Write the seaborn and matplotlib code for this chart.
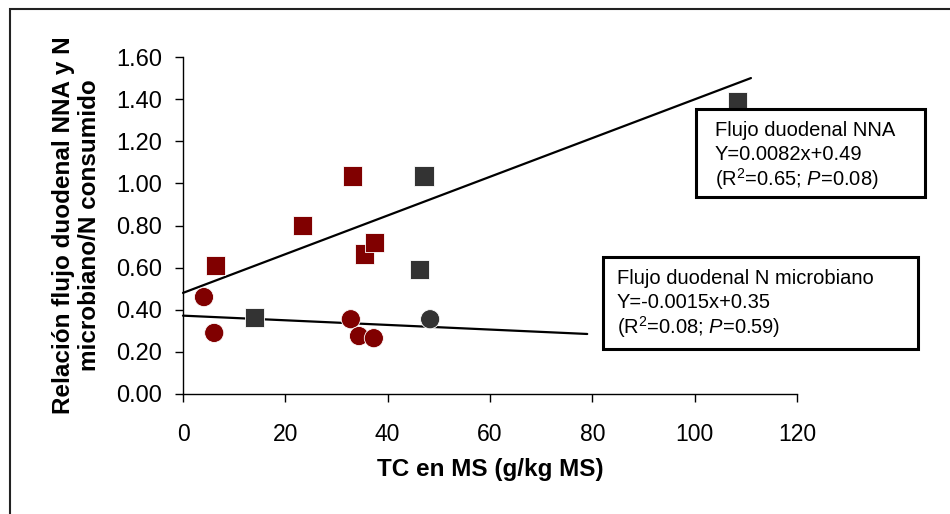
import matplotlib
matplotlib.use("Agg")
import matplotlib.pyplot as plt
import matplotlib.patches as patches
import numpy as np
import pandas as pd
import seaborn as sns

# Values
tc_sq_red = [6.4, 23.3, 33.2, 35.4, 37.5]
nna_sq_red = [0.61, 0.80, 1.035, 0.665, 0.72]
tc_sq_gray = [13.9, 46.3, 47.1, 108.3]
nna_sq_gray = [0.365, 0.59, 1.035, 1.39]
tc_ci_red = [4.1, 6.1, 32.8, 34.4, 37.3]
mic_ci_red = [0.46, 0.29, 0.355, 0.275, 0.265]
tc_ci_gray = [48.3]
mic_ci_gray = [0.355]

# fitted lines as drawn in the chart (end points)
nna_line_x = [0, 111]
nna_line_y = [0.48, 1.50]
mic_line_x = [0, 79]
mic_line_y = [0.372, 0.285]

x_ticks = [0, 20, 40, 60, 80, 100, 120]
y_ticks = [0.0, 0.2, 0.4, 0.6, 0.8, 1.0, 1.2, 1.4, 1.6]

nna_text = ["Flujo duodenal NNA", "Y=0.0082x+0.49", r"(R$^2$=0.65; $P$=0.08)"]
mic_text = ["Flujo duodenal N microbiano", "Y=-0.0015x+0.35", r"(R$^2$=0.08; $P$=0.59)"]

df = pd.concat([
    pd.DataFrame({"tc": tc_sq_red, "val": nna_sq_red, "grp": "red", "tipo": "NNA"}),
    pd.DataFrame({"tc": tc_sq_gray, "val": nna_sq_gray, "grp": "gray", "tipo": "NNA"}),
    pd.DataFrame({"tc": tc_ci_red, "val": mic_ci_red, "grp": "red", "tipo": "mic"}),
    pd.DataFrame({"tc": tc_ci_gray, "val": mic_ci_gray, "grp": "gray", "tipo": "mic"}),
], ignore_index=True)

sns.set_style("white")
plt.rcParams["font.family"] = ["Liberation Sans", "DejaVu Sans"]
plt.rcParams["text.color"] = "black"
plt.rcParams["axes.labelcolor"] = "black"
plt.rcParams["xtick.color"] = "black"
plt.rcParams["ytick.color"] = "black"
plt.rcParams["mathtext.fontset"] = "custom"
plt.rcParams["mathtext.rm"] = "Liberation Sans"
plt.rcParams["mathtext.it"] = "Liberation Sans:italic"

fig = plt.figure(figsize=(9.5, 5.14), dpi=100)
ax = fig.add_axes([183 / 950, 1 - 394 / 514, 614 / 950, 337 / 514])

sns.scatterplot(data=df, x="tc", y="val", hue="grp", style="tipo",
                palette={"red": "#800000", "gray": "#333333"},
                markers={"NNA": "s", "mic": "o"}, s=190,
                edgecolor="white", linewidth=0.6, legend=False, ax=ax, zorder=3)

ax.plot(nna_line_x, nna_line_y, color="black", lw=1.6, zorder=2, clip_on=False)
ax.plot(mic_line_x, mic_line_y, color="black", lw=1.6, zorder=2, clip_on=False)

ax.set_xlim(0, 120)
ax.set_ylim(0, 1.6)
ax.set_xticks(x_ticks)
ax.set_yticks(y_ticks)
ax.set_xticklabels([str(t) for t in x_ticks], fontsize=16.5)
ax.set_yticklabels([f"{t:.2f}" for t in y_ticks], fontsize=17)
ax.tick_params(axis="both", direction="out", length=6, width=1, color="black",
               labelcolor="black", bottom=True, left=True)
ax.tick_params(axis="y", pad=9)
ax.tick_params(axis="x", pad=15)
sns.despine(ax=ax)
for sp in ["left", "bottom"]:
    ax.spines[sp].set_color("black")
    ax.spines[sp].set_linewidth(1)

ax.set_xlabel("TC en MS (g/kg MS)", fontsize=17.5, fontweight="bold")
ax.xaxis.set_label_coords(0.5, -0.19)
ax.set_ylabel("Relación flujo duodenal NNA y N\nmicrobiano/N consumido",
              fontsize=17.5, fontweight="bold", linespacing=1.15)
ax.yaxis.set_label_coords(-0.134, 0.5)

# outer chart-area frame
fig.patches.append(patches.Rectangle((10 / 950, -0.1), 1.2, 1 - 9 / 514 + 0.1,
                                     transform=fig.transFigure, fill=False,
                                     edgecolor="#222222", lw=1.5))

# annotation boxes
def note_box(x0, y0, x1, y1, lines, tx):
    fig.patches.append(patches.Rectangle((x0 / 950, 1 - y1 / 514), (x1 - x0) / 950,
                                         (y1 - y0) / 514, transform=fig.transFigure,
                                         facecolor="white", edgecolor="black",
                                         lw=2.2, zorder=5))
    for i, line in enumerate(lines):
        fig.text(tx / 950, 1 - (y0 + 22 + i * 24) / 514, line, fontsize=14.5,
                 va="center", ha="left", zorder=6)

note_box(696, 109, 925, 197, nna_text, 715)
note_box(603, 257, 918, 349, mic_text, 617)

fig.savefig("out.png", dpi=100, facecolor="white")
